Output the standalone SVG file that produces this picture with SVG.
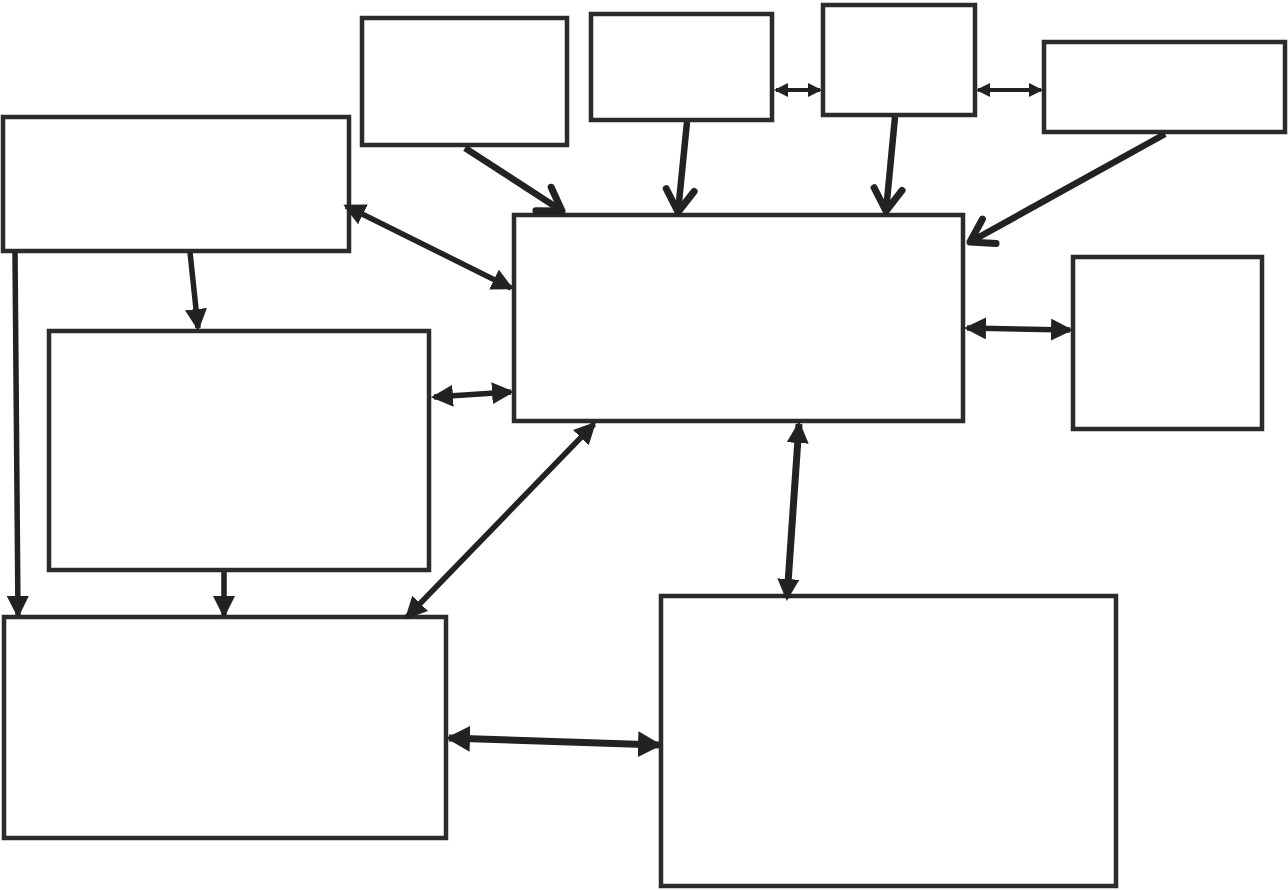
<svg xmlns="http://www.w3.org/2000/svg" width="1288" height="890" viewBox="0 0 1288 890">
<style>
.box{fill:#fff;stroke:#2b2b2b;stroke-width:4.5}
.c{stroke:#222;stroke-width:5.5;fill:none;stroke-linecap:butt}
.ct{stroke:#222;stroke-width:7;fill:none;stroke-linecap:butt}
.cs{stroke:#222;stroke-width:4;fill:none}
.co{stroke:#222;stroke-width:6.5;fill:none}
</style>
<defs>
<marker id="tri" viewBox="0 0 22 22" refX="19" refY="11" markerWidth="22" markerHeight="22" markerUnits="userSpaceOnUse" orient="auto-start-reverse">
<path d="M0,0 L22,11 L0,22 z" fill="#222"/>
</marker>
<marker id="triS" viewBox="0 0 14 14" refX="12" refY="7" markerWidth="14" markerHeight="14" markerUnits="userSpaceOnUse" orient="auto-start-reverse">
<path d="M0,0 L14,7 L0,14 z" fill="#222"/>
</marker>
<marker id="triL" viewBox="0 0 24 26" refX="21" refY="13" markerWidth="24" markerHeight="26" markerUnits="userSpaceOnUse" orient="auto-start-reverse">
<path d="M0,0 L24,13 L0,26 z" fill="#222"/>
</marker>
<marker id="chev" viewBox="-30 -20 34 40" refX="0" refY="0" markerWidth="34" markerHeight="40" markerUnits="userSpaceOnUse" orient="auto">
<path d="M-22,-14 L0,0 L-22,14" fill="none" stroke="#222" stroke-width="7" stroke-linecap="round" stroke-linejoin="round"/>
</marker>
</defs>
<g id="nodes">
<g id="n1"><rect class="box" x="362" y="18" width="205" height="127"/></g>
<g id="n2"><rect class="box" x="591" y="14" width="181" height="106"/></g>
<g id="n3"><rect class="box" x="823" y="5" width="152" height="110"/></g>
<g id="n4"><rect class="box" x="1044" y="42" width="241" height="90"/></g>
<g id="n5"><rect class="box" x="3" y="117" width="346" height="134"/></g>
<g id="n6"><rect class="box" x="514" y="215" width="449" height="206"/></g>
<g id="n7"><rect class="box" x="1073" y="257" width="189" height="172"/></g>
<g id="n8"><rect class="box" x="49" y="331" width="380" height="239"/></g>
<g id="n9"><rect class="box" x="4" y="617" width="442" height="221"/></g>
<g id="n10"><rect class="box" x="661" y="596" width="455" height="290"/></g>
</g>
<g id="connectors">
<line class="co" x1="465" y1="148" x2="562" y2="211" marker-end="url(#chev)"/>
<line class="co" x1="687" y1="122" x2="678" y2="212" marker-end="url(#chev)"/>
<line class="co" x1="895" y1="117" x2="886" y2="211" marker-end="url(#chev)"/>
<line class="co" x1="1165" y1="134" x2="970" y2="242" marker-end="url(#chev)"/>
<line class="cs" x1="776" y1="90" x2="820" y2="90" marker-start="url(#triS)" marker-end="url(#triS)"/>
<line class="cs" x1="978" y1="90" x2="1041" y2="90" marker-start="url(#triS)" marker-end="url(#triS)"/>
<line class="c" x1="346" y1="206" x2="511" y2="288" marker-start="url(#tri)" marker-end="url(#tri)"/>
<line class="c" x1="190" y1="252" x2="198" y2="328" marker-end="url(#tri)"/>
<line class="c" x1="15" y1="252" x2="18" y2="615" marker-end="url(#tri)"/>
<line class="c" x1="224" y1="572" x2="224" y2="615" marker-end="url(#tri)"/>
<line class="c" x1="434" y1="397" x2="511" y2="392" marker-start="url(#tri)" marker-end="url(#tri)"/>
<line class="c" x1="594" y1="424" x2="407" y2="617" marker-start="url(#tri)" marker-end="url(#tri)"/>
<line class="ct" x1="799" y1="424" x2="787" y2="598" marker-start="url(#tri)" marker-end="url(#tri)"/>
<line class="c" x1="967" y1="328" x2="1070" y2="330" marker-start="url(#tri)" marker-end="url(#tri)"/>
<line class="ct" x1="449" y1="738" x2="659" y2="745" marker-start="url(#triL)" marker-end="url(#triL)"/>
</g>
</svg>
